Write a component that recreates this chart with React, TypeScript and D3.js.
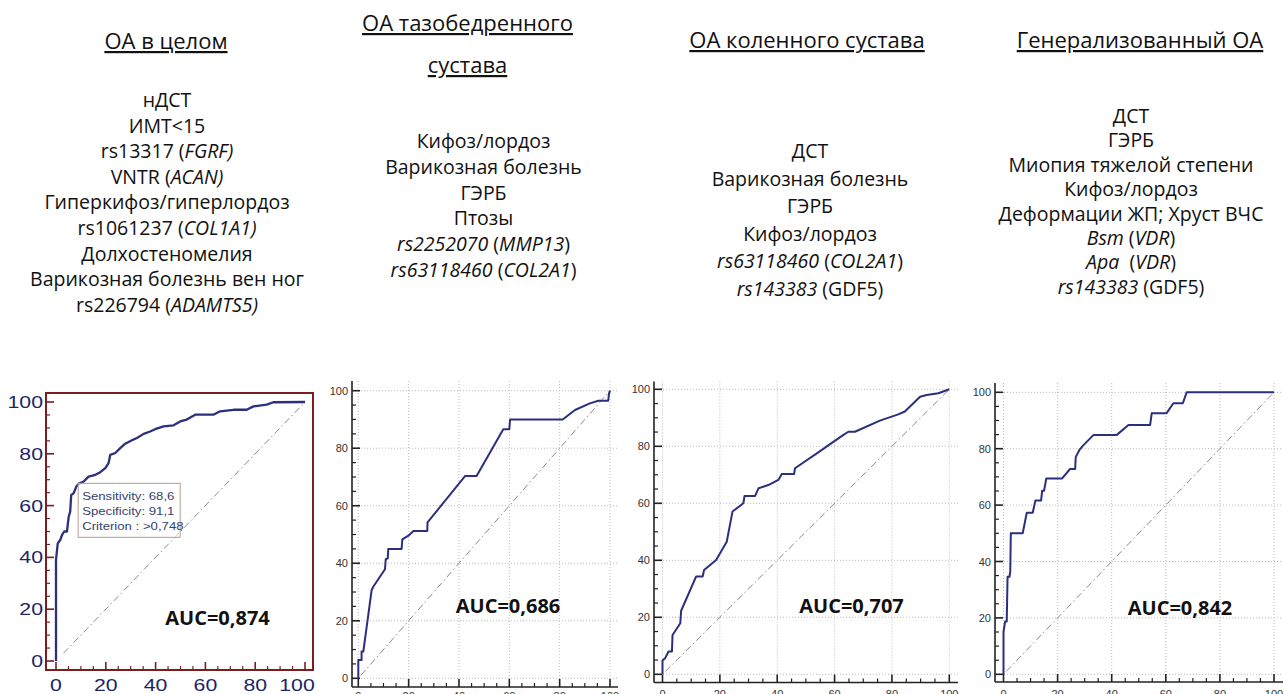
import React from "react";
import * as d3 from "d3";

// ROC curves: x = 100 - specificity, y = sensitivity
const fpr1 = [0, 0, 0.7, 1.7, 2.4, 3.3, 4.4, 5.1, 5.7, 6.1, 7.1, 8.2, 9.1, 11.1, 13.1, 15.8, 17.8, 19.8, 21.1, 21.8, 23.8, 25.8, 27.8, 30.5, 32.5, 35.2, 37.8, 39.8, 43.2, 47.2, 49.9, 52.5, 55.9, 63.2, 65.9, 71.3, 76.6, 79.3, 84.6, 87.3, 100];
const tpr1 = [0, 39, 45.4, 46.7, 48.6, 50, 50, 55.7, 57.7, 64, 64.8, 67.4, 68.4, 69.3, 71.2, 71.9, 72.9, 74.5, 76.4, 79.6, 80.3, 82.2, 83.9, 85.2, 86.1, 87.7, 88.6, 89.5, 90.6, 91, 92.5, 93.2, 95.1, 95.1, 96.4, 97, 97, 98.3, 99, 99.9, 100];

const fpr2 = [0, 0, 1.3, 1.3, 2, 5.3, 6, 10.6, 10.9, 11.7, 11.9, 17.2, 17.5, 19.9, 21.9, 27.4, 27.5, 42.4, 47, 57.6, 60, 60.3, 81.2, 86.1, 92, 95.4, 99.3, 99.6, 100];
const tpr2 = [0, 6.4, 6.4, 9.3, 9.3, 30.7, 31.9, 37.9, 41.4, 41.7, 45, 45, 48.3, 49.6, 51.2, 51.2, 54.2, 70.3, 70.3, 86.6, 86.6, 90, 90, 93.3, 95.6, 96.5, 96.5, 99, 100];

const fpr3 = [0, 0, 0.9, 2.1, 3.3, 3.5, 6.2, 6.5, 11.7, 14, 14.5, 18.7, 22.4, 24.4, 28.2, 28.6, 32.3, 33.5, 36.9, 40.4, 41.6, 45.9, 46.2, 53.8, 63.1, 64.8, 67.1, 75.8, 82.2, 84.5, 89.8, 92.1, 96.2, 100];
const tpr3 = [0, 4.8, 5.6, 8, 8, 13.8, 17.9, 22.3, 34.3, 34.3, 36.6, 40.1, 46.5, 57.1, 60, 62.6, 62.6, 65.3, 66.4, 68.2, 70.3, 70.3, 72.3, 77.5, 84, 85.1, 85.1, 89, 91.2, 92.2, 97.4, 98, 98.6, 100];

const fpr4 = [0, 0, 0.6, 1.2, 1.5, 2.2, 2.5, 2.7, 7.1, 8.6, 10.8, 11.8, 13.9, 14.3, 15, 15.8, 21.6, 24.6, 26.5, 26.7, 28.1, 29.3, 33.3, 41.9, 46.2, 54.2, 54.8, 60.3, 62.8, 66.3, 67.7, 100];
const tpr4 = [0, 15.1, 18.7, 18.7, 34.6, 34.6, 36.4, 50, 50, 57.3, 57.3, 61.6, 61.6, 65.1, 65.1, 69.4, 69.4, 72.8, 72.8, 77, 79.6, 81, 84.9, 84.9, 88.4, 88.4, 92.6, 92.6, 96.1, 96.1, 100, 100];

const aucLabels = ["AUC=0,874", "AUC=0,686", "AUC=0,707", "AUC=0,842"];
const tickValues = [0, 20, 40, 60, 80, 100];
const cutoffLines = ["Sensitivity: 68,6", "Specificity: 91,1", "Criterion : >0,748"];

// headings, each line is a list of [text, italic]
type Seg = [string, boolean];
const titles1 = ["ОА в целом"];
const titles2 = ["ОА тазобедренного", "сустава"];
const titles3 = ["ОА коленного сустава"];
const titles4 = ["Генерализованный ОА"];

const factors1: Seg[][] = [
  [["нДСТ", false]],
  [["ИМТ<15", false]],
  [["rs13317 (", false], ["FGRF)", true]],
  [["VNTR (", false], ["ACAN)", true]],
  [["Гиперкифоз/гиперлордоз", false]],
  [["rs1061237 (", false], ["COL1A1)", true]],
  [["Долхостеномелия", false]],
  [["Варикозная болезнь вен ног", false]],
  [["rs226794 (", false], ["ADAMTS5)", true]],
];
const factors2: Seg[][] = [
  [["Кифоз/лордоз", false]],
  [["Варикозная болезнь", false]],
  [["ГЭРБ", false]],
  [["Птозы", false]],
  [["rs2252070", true], [" (", false], ["MMP13", true], [")", false]],
  [["rs63118460", true], [" (", false], ["COL2A1", true], [")", false]],
];
const factors3: Seg[][] = [
  [["ДСТ", false]],
  [["Варикозная болезнь", false]],
  [["ГЭРБ", false]],
  [["Кифоз/лордоз", false]],
  [["rs63118460", true], [" (", false], ["COL2A1", true], [")", false]],
  [["rs143383", true], [" (GDF5)", false]],
];
const factors4: Seg[][] = [
  [["ДСТ", false]],
  [["ГЭРБ", false]],
  [["Миопия тяжелой степени", false]],
  [["Кифоз/лордоз", false]],
  [["Деформации ЖП; Хруст ВЧС", false]],
  [["Bsm", true], [" (", false], ["VDR", true], [")", false]],
  [["Apa", true], ["  (", false], ["VDR", true], [")", false]],
  [["rs143383", true], [" (GDF5)", false]],
];

// layout
const layout = [
  { fpr: fpr1, tpr: tpr1, titles: titles1, factors: factors1, framed: true,
    titleX: 166, titleY: 49, titleStep: 0, bodyX: 167, bodyY: 107, bodyStep: 25.6,
    x0: 56, x1: 305, y0: 661, y1: 402, axL: 46, axB: 670, axT: 393, axR: 313,
    xLabelY: 691, aucX: 217.5, aucY: 625 },
  { fpr: fpr2, tpr: tpr2, titles: titles2, factors: factors2, framed: false,
    titleX: 467.5, titleY: 31, titleStep: 42, bodyX: 483.5, bodyY: 148, bodyStep: 25.8,
    x0: 358.3, x1: 610, y0: 678.3, y1: 390.7, axL: 352, axB: 687, axT: 381, axR: 618,
    xLabelY: 699.5, aucX: 508, aucY: 613 },
  { fpr: fpr3, tpr: tpr3, titles: titles3, factors: factors3, framed: false,
    titleX: 807, titleY: 48, titleStep: 0, bodyX: 810, bodyY: 158, bodyStep: 27.6,
    x0: 662.5, x1: 949.3, y0: 674.3, y1: 389.3, axL: 654, axB: 682.5, axT: 381.5, axR: 958,
    xLabelY: 697.5, aucX: 851.5, aucY: 613 },
  { fpr: fpr4, tpr: tpr4, titles: titles4, factors: factors4, framed: false,
    titleX: 1140, titleY: 48, titleStep: 0, bodyX: 1131, bodyY: 123, bodyStep: 24.4,
    x0: 1003.5, x1: 1274, y0: 674.3, y1: 392.3, axL: 995, axB: 682, axT: 383, axR: 1283,
    xLabelY: 697.5, aucX: 1180, aucY: 615 },
];

const curveColor = "#2c2f7e";
const textFont = "'Open Sans', 'Noto Sans', sans-serif";
const axisFont = "'Liberation Sans', Arial, sans-serif";

function Panel({ p, i }: { p: any; i: number }) {
  const x = d3.scaleLinear().domain([0, 100]).range([p.x0, p.x1]);
  const y = d3.scaleLinear().domain([0, 100]).range([p.y0, p.y1]);
  const pts: [number, number][] = p.fpr.map((f: number, k: number) => [f, p.tpr[k]]);
  const line = d3.line<[number, number]>().x((d) => x(d[0])).y((d) => y(d[1]));
  const minor = d3.range(0, 101, 5);
  const axisColor = p.framed ? "#7a1e1e" : "#222";
  const labelColor = p.framed ? "#1d2468" : "#333";
  const diagStart = p.framed ? 3 : 1;
  // the first plot is stretched sideways in the source slide
  const sx = p.framed ? 1.25 : 1;
  const fs = p.framed ? 17 : 11;
  // keep the framed panel's last x label inside the frame
  const xLab = (v: number) => (p.framed ? Math.min(x(v), p.axR - 16) : x(v));

  return (
    <g>
      {/* headings */}
      {p.titles.map((t: string, k: number) => (
        <text key={"t" + k} x={p.titleX} y={p.titleY + k * p.titleStep} textAnchor="middle"
          fontFamily={textFont} fontSize={22} fill="#111" style={{ textDecoration: "underline" }}>
          {t}
        </text>
      ))}
      {p.factors.map((segs: Seg[], k: number) => (
        <text key={"f" + k} x={p.bodyX} y={p.bodyY + k * p.bodyStep} textAnchor="middle"
          fontFamily={textFont} fontSize={19.5} fill="#111" style={{ whiteSpace: "pre" }}>
          {segs.map((s, j) => (
            <tspan key={j} fontStyle={s[1] ? "italic" : "normal"}>{s[0]}</tspan>
          ))}
        </text>
      ))}

      {/* grid */}
      {!p.framed && tickValues.map((v) => (
        <g key={"g" + v}>
          <line x1={p.axL} x2={p.axR} y1={y(v)} y2={y(v)} stroke="#bbb" strokeWidth={1} strokeDasharray="1 2" />
          <line x1={x(v)} x2={x(v)} y1={p.axT} y2={p.axB} stroke="#bbb" strokeWidth={1} strokeDasharray="1 2" />
        </g>
      ))}

      {/* diagonal */}
      <line x1={x(diagStart)} y1={y(diagStart)} x2={x(100)} y2={y(100)} stroke="#8a8a8a"
        strokeWidth={1} strokeDasharray="7 3 1.5 3" />

      {/* axes */}
      {p.framed ? (
        <rect x={p.axL} y={p.axT} width={p.axR - p.axL} height={p.axB - p.axT} fill="none"
          stroke={axisColor} strokeWidth={2} />
      ) : (
        <g stroke={axisColor} strokeWidth={1.6}>
          <line x1={p.axL} x2={p.axL} y1={p.axT} y2={p.axB} />
          <line x1={p.axL} x2={p.axR} y1={p.axB} y2={p.axB} />
        </g>
      )}
      {minor.map((v) => {
        const major = v % 20 === 0;
        const len = major ? 8 : 4;
        return (
          <g key={"k" + v} stroke={axisColor} strokeWidth={major ? 1.6 : 1.2}>
            <line x1={x(v)} x2={x(v)} y1={p.axB} y2={p.axB - len} />
            <line x1={p.axL} x2={p.axL + len} y1={y(v)} y2={y(v)} />
          </g>
        );
      })}
      {tickValues.map((v) => (
        <g key={"l" + v} fontFamily={axisFont} fill={labelColor} fontSize={fs}>
          <text transform={`translate(${xLab(v)},${p.xLabelY}) scale(${sx},1)`} textAnchor="middle">{v}</text>
          <text transform={`translate(${p.axL - (p.framed ? 3 : 4)},${y(v) + (p.framed ? 6 : 4)}) scale(${sx},1)`}
            textAnchor="end">{v}</text>
        </g>
      ))}

      {/* ROC curve */}
      <path d={line(pts) || ""} fill="none" stroke={curveColor} strokeWidth={p.framed ? 2.3 : 2}
        strokeLinejoin="round" />

      {p.framed && (
        <g>
          <rect x={x(8.9)} y={y(68.6)} width={102} height={54} fill="#fff" fillOpacity={0.6}
            stroke="#b99a92" strokeWidth={1} />
          {cutoffLines.map((s, k) => (
            <text key={s} transform={`translate(${x(8.9) + 4},${y(68.6) + 17 + k * 15}) scale(1.2,1)`}
              fontFamily={axisFont} fontSize={11} fill="#3a3f6e">{s}</text>
          ))}
        </g>
      )}

      <text x={p.aucX} y={p.aucY} textAnchor="middle" fontFamily={textFont} fontWeight={700}
        fontSize={20} fill="#111">{aucLabels[i]}</text>
    </g>
  );
}

export default function App() {
  return (
    <svg width={1283} height={694} style={{ position: "absolute", left: 0, top: 0, background: "#fff" }}>
      <rect width={1283} height={694} fill="#fff" />
      {layout.map((p, i) => (
        <Panel key={i} p={p} i={i} />
      ))}
    </svg>
  );
}
